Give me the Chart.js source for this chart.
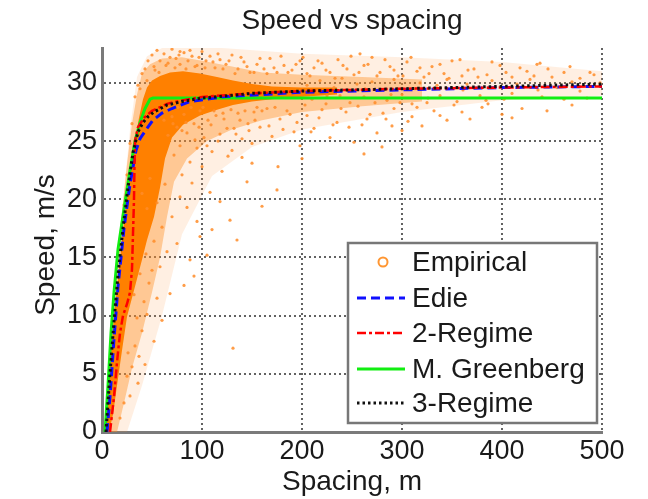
<!DOCTYPE html>
<html>
<head>
<meta charset="utf-8">
<script src="https://cdn.jsdelivr.net/npm/chart.js@4.4.1/dist/chart.umd.min.js"></script>
<style>
  html, body { margin: 0; padding: 0; background: #ffffff; }
  #wrap { width: 648px; height: 499px; }
</style>
</head>
<body>
<div id="wrap"><canvas id="c" width="648" height="499"></canvas></div>
<script>
// ---------------- DATA ----------------
const chartTitle = "Speed vs spacing";
const xTitle = "Spacing, m";
const yTitle = "Speed, m/s";
const legendLabels = ["Empirical", "Edie", "2-Regime", "M. Greenberg", "3-Regime"];
const xTickValues = [0, 100, 200, 300, 400, 500];
const yTickValues = [0, 5, 10, 15, 20, 25, 30];

// Model curves (spacing in m, speed in m/s)
const edieSpacing = [5, 8, 12, 16, 22, 28, 34, 38, 45, 51, 60, 70, 88, 120, 160, 200, 300, 400, 500];
const edieSpeed   = [0, 3, 8, 12.5, 17.5, 21.3, 24.2, 25.2, 26.1, 26.8, 27.4, 27.8, 28.4, 28.8, 29.0, 29.2, 29.4, 29.6, 29.7];

const twoRegSpacing = [8, 12, 15, 18, 21, 25, 28, 30, 31, 32, 32.5, 33, 36, 42, 50, 65, 80, 100, 150, 200, 300, 400, 500];
const twoRegSpeed   = [0, 3, 6, 8.5, 10, 11, 12, 14, 17, 20, 23, 25, 26.2, 27.0, 27.6, 28.2, 28.5, 28.8, 29.1, 29.3, 29.5, 29.6, 29.7];

const greenSpacing = [3, 6, 9, 12, 16, 20, 24, 28, 33, 38, 43, 48, 51, 500];
const greenSpeed   = [0, 4, 8.5, 12, 15.7, 18, 20.3, 22.5, 25, 26.6, 27.8, 28.6, 28.7, 28.7];

const threeRegSpacing = [4, 8, 12, 16, 21, 26, 31, 36, 41, 46, 52, 65, 80, 100, 150, 200, 300, 400, 500];
const threeRegSpeed   = [0, 5, 9.5, 13.5, 17.5, 21, 24, 25.8, 26.6, 27.1, 27.5, 28.1, 28.4, 28.7, 29.1, 29.3, 29.5, 29.7, 29.9];

// Empirical cloud: dense core outline, surrounding bands, and scattered observations
const coreSpacing = [4, 6, 9, 12, 17, 22, 27, 32, 37, 41, 45, 50, 58, 68, 81, 98, 115, 131, 150, 170, 200, 235,
                     235, 200, 170, 150, 131, 115, 98, 81, 70, 63, 58, 52, 45, 40, 33, 25, 20, 15, 11, 7];
const coreSpeed   = [0.5, 3, 7, 10, 14, 18, 21.5, 24.5, 27, 28.6, 29.6, 30.2, 30.6, 30.9, 31.0, 30.8, 30.5, 30.2, 29.9, 29.7, 29.6, 29.6,
                     29.0, 28.8, 28.6, 28.4, 28.1, 27.7, 27.2, 26.4, 25.3, 23.5, 21.0, 18.5, 16.5, 14.8, 12.5, 9.9, 7, 4, 1.5, 0];

const midSpacing = [3, 5, 8, 11, 15, 20, 25, 30, 35, 40, 48, 60, 80, 100, 130, 160, 200, 260, 320,
                    320, 260, 200, 160, 130, 105, 85, 72, 65, 58, 50, 40, 30, 22, 15];
const midSpeed   = [0, 3, 7, 10.5, 15, 19, 23, 26.5, 29, 30.8, 31.6, 32.1, 32.2, 31.9, 31.4, 30.9, 30.7, 30.5, 30.3,
                    28.4, 28.0, 27.5, 26.8, 26.0, 25.0, 23.5, 21.5, 18.5, 15, 12, 8.5, 5.5, 2.5, 0];

const haloSpacing = [2, 18, 28, 35, 45, 60, 120, 200, 300, 400, 500, 500, 400, 300, 200, 150, 110, 80, 60, 40, 25];
const haloSpeed   = [0, 17, 26, 30.5, 32.3, 33, 33, 32.5, 32.2, 31.8, 31, 28.9, 28.5, 27.5, 26, 24.5, 22, 17, 10, 4, 0];

const empSpacing = [
  38,40,43,46,50,52,55,58,62,66,70,74,78,82,86,90,95,100,104,108,113,118,124,130,136,142,148,155,162,168,175,182,190,198,
  205,212,220,228,236,245,252,262,270,278,288,296,305,315,322,330,342,350,360,372,385,398,410,425,438,450,462,478,492,
  205,210,218,225,232,240,248,255,262,270,278,285,292,300,310,318,326,335,345,355,365,378,390,402,415,428,440,455,470,485,498,
  152,158,165,170,178,185,192,198,205,212,220,228,235,244,252,260,268,275,284,292,300,310,320,332,345,360,380,400,420,
  130,140,120,150,176,200,262,280,145,175,160,118,128,110,135,98,105,131,37,
  62,66,70,72,75,78,82,85,88,92,95,98,102,106,110,114,118,122,126,132,136,140,146,150,155,80,90,100,108,85,95,78,70,75,88,65,82,92,
  40,45,48,52,55,58,60,63,44,47,50,42,38,35,40,45,33,30,36,28,25,22,32,55,60,52,68,18,26,43,
  30,28,33,36,25,22,78,258,435,
  45,53,57,64,68,73,77,84,88,93,97,103,111,116,121,127,133,139,145,152,158,165,172,179,186,194,201,208,216,224,233,241,249,257,
  266,275,283,292,301,309,318,327,338,347,358,366,376,390,404,418,432,446,468,488,
  66,71,76,80,84,89,93,97,101,105,109,112,116,121,125,129,134,138,143,147,153,160,167,173,181,188,195,203,209,217,224,231,239,247,
  256,265,273,281,290,298,306,315,325,338,352,368,386,410,445,470,
  215,238,263,289,313,338,361,384,410,436,462,478
];
const empSpeed = [
  29.5,30.8,31.2,31.9,32.4,31.4,32.8,31.9,32.5,31.7,32.9,32.1,31.6,32.6,31.9,32.3,31.5,32.7,31.9,32.3,31.3,32.0,31.6,32.4,31.2,31.8,30.9,31.6,31.2,32.1,30.9,31.5,31.1,31.9,
  30.8,31.3,31.7,30.9,32.0,31.2,30.7,31.5,32.2,30.9,31.4,30.6,31.8,31.0,30.5,31.4,30.8,31.9,30.6,31.2,30.7,31.5,30.5,31.0,31.7,30.5,30.9,30.4,30.7,
  29.8,28.6,30.2,28.9,29.6,30.4,28.3,29.9,28.8,30.1,29.4,28.5,30.3,29.0,28.2,30.0,28.7,29.8,30.3,28.4,29.9,28.9,30.2,28.6,29.9,30.3,28.8,29.6,30.1,28.7,30.0,
  27.5,26.2,27.8,25.4,26.9,27.6,25.8,24.6,27.2,26.1,27.7,25.3,26.6,27.5,24.9,26.4,27.3,25.7,26.9,27.8,25.9,27.1,26.3,27.6,26.8,27.5,27.9,27.3,27.8,
  24.2,23.6,22.4,23.1,22.8,23.5,23.9,24.5,21.5,20.8,19.4,19.8,18.2,17.4,16.5,16.8,15.2,7.2,6.5,
  26.8,25.5,27.1,23.8,26.2,24.6,27.3,25.7,23.2,26.5,24.4,27.6,25.3,26.8,24.1,27.2,25.6,26.9,23.7,26.1,27.4,25.2,26.5,24.8,27.9,22.1,21.4,22.8,20.6,19.3,18.1,20.2,18.5,16.2,14.8,15.5,12.6,13.4,
  20.5,19.2,21.8,16.4,19.7,14.2,17.6,21.3,15.3,12.8,13.9,11.2,13.6,9.8,8.7,10.1,7.4,5.6,4.2,3.1,4.8,2.5,11.8,11.5,9.6,7.8,11.9,1.2,6.8,5.8,
  26.5,24.8,28.8,29.8,22.1,19.5,32.7,32.5,31.6,
  30.2,31.1,30.9,31.5,32.2,31.3,32.4,31.2,32.8,31.4,32.2,31.3,31.8,32.5,31.2,31.9,30.8,32.2,31.4,30.9,32.1,30.8,31.3,32.3,30.9,31.6,32.2,30.6,31.9,31.1,30.4,31.5,32.3,30.9,
  31.6,30.6,32.0,31.1,30.6,32.2,31.3,30.8,31.6,30.4,32.0,31.1,30.5,31.8,30.9,31.3,30.6,31.2,31.4,30.9,
  27.8,26.5,27.9,25.9,26.6,27.9,25.1,26.2,27.9,24.6,26.4,27.6,25.0,27.4,26.1,27.7,25.6,26.8,27.6,25.9,26.8,27.6,26.3,27.9,26.0,27.3,26.6,28.1,25.8,27.0,28.2,26.4,27.8,26.2,
  28.0,26.9,28.3,27.4,26.3,28.3,26.7,27.9,28.3,27.2,28.1,26.9,28.2,27.0,27.6,28.1,
  29.3,28.9,29.5,29.0,29.5,28.9,29.4,28.5,29.1,29.4,28.6,29.3
];

// ---------------- HELPERS ----------------
function pts(xs, ys) { return xs.map((x, i) => ({ x: x, y: ys[i] })); }

const FONT = "'Liberation Sans', Arial, sans-serif";
Chart.defaults.font.family = FONT;

const styles = {
  emp:   { color: 'rgba(255,140,40,0.85)' },
  edie:  { color: '#1010ff', dash: [9, 5], width: 3 },
  two:   { color: '#ff0000', dash: [9, 3, 3, 3], width: 2.5 },
  green: { color: '#11ee11', dash: [], width: 3 },
  three: { color: '#111111', dash: [2.5, 3], width: 3 }
};

const textPlugin = {
  id: 'texts',
  afterDraw(chart) {
    const ctx = chart.ctx;
    const ca = chart.chartArea;
    ctx.save();
    ctx.fillStyle = '#1a1a1a';
    ctx.font = '28px ' + FONT;
    ctx.textAlign = 'center';
    ctx.textBaseline = 'alphabetic';
    ctx.fillText(chartTitle, (ca.left + ca.right) / 2, 29);
    ctx.fillText(xTitle, (ca.left + ca.right) / 2, 490);
    ctx.save();
    ctx.translate(54, (ca.top + ca.bottom) / 2 + 5);
    ctx.rotate(-Math.PI / 2);
    ctx.fillText(yTitle, 0, 0);
    ctx.restore();

    // legend
    const bx = 348, by = 243, bw = 249, bh = 180;
    ctx.fillStyle = '#ffffff';
    ctx.fillRect(bx, by, bw, bh);
    ctx.strokeStyle = '#777777';
    ctx.lineWidth = 2.5;
    ctx.strokeRect(bx, by, bw, bh);
    const rows = [262, 298, 333, 369, 403];
    const keys = ['emp', 'edie', 'two', 'green', 'three'];
    ctx.textAlign = 'left';
    ctx.textBaseline = 'middle';
    rows.forEach((yy, i) => {
      const s = styles[keys[i]];
      if (keys[i] === 'emp') {
        ctx.beginPath();
        ctx.arc(383, yy, 4.5, 0, Math.PI * 2);
        ctx.strokeStyle = 'rgb(255,150,50)';
        ctx.lineWidth = 2;
        ctx.setLineDash([]);
        ctx.stroke();
      } else {
        ctx.beginPath();
        ctx.moveTo(357, yy);
        ctx.lineTo(405, yy);
        ctx.strokeStyle = s.color;
        ctx.lineWidth = s.width;
        ctx.setLineDash(s.dash);
        ctx.stroke();
        ctx.setLineDash([]);
      }
      ctx.fillStyle = '#1a1a1a';
      ctx.fillText(legendLabels[i], 412, yy + 1);
    });
    ctx.restore();
  }
};

const lineDS = (label, xs, ys, st, order) => ({
  label: label,
  data: pts(xs, ys),
  borderColor: st.color,
  borderWidth: st.width,
  borderDash: st.dash,
  pointRadius: 0,
  fill: false,
  tension: 0,
  showLine: true,
  order: order
});

const shapeDS = (label, xs, ys, color, order) => ({
  label: label,
  data: pts(xs, ys),
  borderWidth: 0,
  borderColor: 'rgba(0,0,0,0)',
  backgroundColor: color,
  pointRadius: 0,
  fill: 'shape',
  tension: 0,
  showLine: true,
  order: order
});

new Chart(document.getElementById('c'), {
  type: 'line',
  data: {
    datasets: [
      lineDS(legendLabels[4], threeRegSpacing, threeRegSpeed, styles.three, 1),
      lineDS(legendLabels[2], twoRegSpacing, twoRegSpeed, styles.two, 2),
      lineDS(legendLabels[1], edieSpacing, edieSpeed, styles.edie, 3),
      lineDS(legendLabels[3], greenSpacing, greenSpeed, styles.green, 4),
      {
        label: legendLabels[0],
        data: pts(empSpacing, empSpeed),
        showLine: false,
        pointRadius: 1.6,
        pointBorderWidth: 0,
        pointBackgroundColor: styles.emp.color,
        order: 10
      },
      shapeDS('core', coreSpacing, coreSpeed, 'rgb(255,128,0)', 11),
      shapeDS('mid', midSpacing, midSpeed, 'rgba(255,140,30,0.4)', 12),
      shapeDS('halo', haloSpacing, haloSpeed, 'rgba(255,150,60,0.15)', 13)
    ]
  },
  options: {
    responsive: false,
    animation: false,
    events: [],
    layout: { padding: { left: 0, right: 46, top: 48, bottom: 0 } },
    plugins: { legend: { display: false }, tooltip: { enabled: false }, title: { display: false } },
    scales: {
      x: {
        type: 'linear',
        min: 0, max: 500,
        afterFit(s) { s.height = 67; },
        afterBuildTicks(s) { s.ticks = xTickValues.map(v => ({ value: v })); },
        ticks: { font: { size: 27 }, color: '#1a1a1a', padding: 3, maxRotation: 0 },
        grid: { color: 'rgba(70,70,70,0.85)', lineWidth: 2, drawTicks: false },
        border: { color: '#7a7a7a', width: 3, dash: [2, 3] }
      },
      y: {
        type: 'linear',
        min: 0, max: 33,
        afterFit(s) { s.width = 102; },
        afterBuildTicks(s) { s.ticks = yTickValues.map(v => ({ value: v })); },
        ticks: { font: { size: 27 }, color: '#1a1a1a', padding: 5 },
        grid: { color: 'rgba(70,70,70,0.85)', lineWidth: 2, drawTicks: false },
        border: { color: '#7a7a7a', width: 3, dash: [2, 3] }
      }
    }
  },
  plugins: [textPlugin]
});
</script>
</body>
</html>
